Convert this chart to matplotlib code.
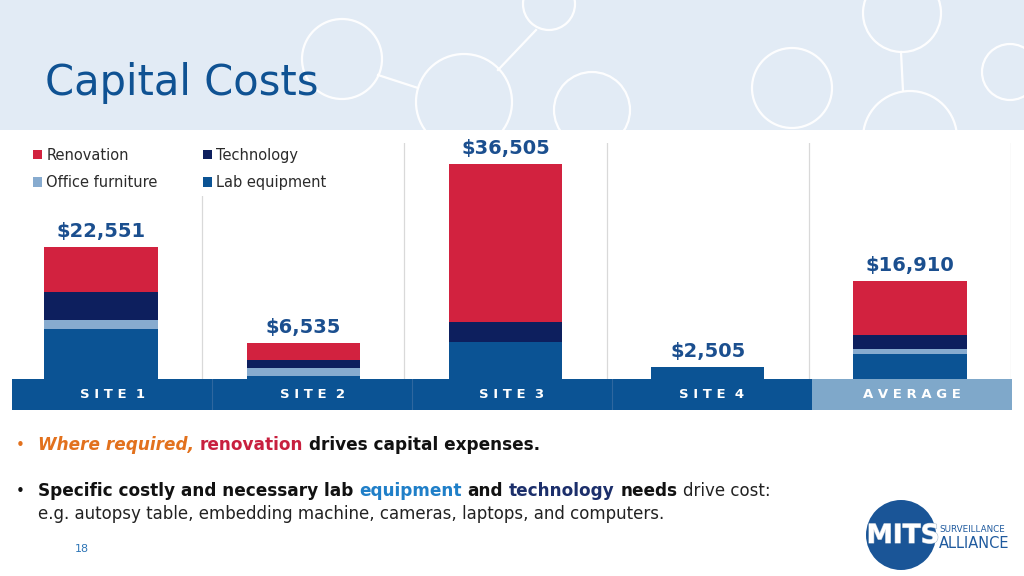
import matplotlib
matplotlib.use('Agg')
import matplotlib.pyplot as plt
from matplotlib.patches import Rectangle, Circle
from matplotlib.lines import Line2D
import matplotlib.patheffects as pe
import numpy as np

# ---------------- data ----------------
categories = ['SITE 1', 'SITE 2', 'SITE 3', 'SITE 4', 'AVERAGE']
series_names = ['Renovation', 'Technology', 'Office furniture', 'Lab equipment']
renovation = [7445, 2800, 26530, 0, 9080]
technology = [4798, 1400, 3300, 0, 2364]
office_furniture = [1489, 1355, 0, 0, 820]
lab_equipment = [8819, 980, 6675, 2505, 4646]
total_labels = ['$22,551', '$6,535', '$36,505', '$2,505', '$16,910']

# ---------------- style ----------------
C_REN = '#d2223f'
C_TECH = '#0d1f5e'
C_OFF = '#87abcf'
C_LAB = '#0b5394'
C_BAND = '#0b5394'
C_BAND_AVG = '#7fa8ca'
C_TITLE = '#0f5293'
C_LABEL = '#1b4f8f'
C_HEADER = '#e2ebf5'

plt.rcParams['font.family'] = ['DejaVu Sans']

W, H = 1024, 576
fig = plt.figure(figsize=(W / 100, H / 100), dpi=100)
fig.patch.set_facecolor('white')

# background axes in pixel coordinates (y downward)
bg = fig.add_axes([0, 0, 1, 1])
bg.set_xlim(0, W)
bg.set_ylim(H, 0)
bg.axis('off')
bg.set_zorder(0)

header = Rectangle((0, 0), W, 130, facecolor=C_HEADER, edgecolor='none')
bg.add_patch(header)

circles = [(342, 59, 40), (464, 102, 48), (549, 4, 26), (592, 110, 38),
           (792, 88, 40), (902, 13, 39), (910, 138, 47), (1010, 72, 28)]
for cx, cy, r in circles:
    c = Circle((cx, cy), r, facecolor='none', edgecolor='white', lw=1.6, alpha=0.95)
    bg.add_patch(c)
    c.set_clip_path(header)
for (x0, y0), (x1, y1) in [((378, 75), (418, 88)), ((536, 30), (498, 70)), ((901, 52), (903, 91))]:
    ln = Line2D([x0, x1], [y0, y1], color='white', lw=1.6, alpha=0.95)
    bg.add_line(ln)

bg.text(45, 95, 'Capital Costs', fontsize=30, color=C_TITLE, ha='left', va='baseline')

# ---------------- chart ----------------
ax = fig.add_axes([0, (H - 382) / H, 1011 / W, 239 / H])
ax.set_zorder(1)
ax.patch.set_alpha(0)
x = np.arange(len(categories))
bw = 0.56
lab = np.array(lab_equipment, dtype=float)
off = np.array(office_furniture, dtype=float)
tech = np.array(technology, dtype=float)
ren = np.array(renovation, dtype=float)
b1 = ax.bar(x, lab, bw, color=C_LAB, lw=0, label='Lab equipment', zorder=2)
b2 = ax.bar(x, off, bw, bottom=lab, color=C_OFF, lw=0, label='Office furniture', zorder=2)
b3 = ax.bar(x, tech, bw, bottom=lab + off, color=C_TECH, lw=0, label='Technology', zorder=2)
b4 = ax.bar(x, ren, bw, bottom=lab + off + tech, color=C_REN, lw=0, label='Renovation', zorder=2)
ax.bar_label(b4, labels=total_labels, padding=4.5, fontsize=14, fontweight='bold', color=C_LABEL)

ax.set_xlim(-0.5, len(categories) - 0.5)
ax.set_ylim(0, 40000)
ax.set_xticks(x + 0.5, minor=True)
ax.set_xticks([])
ax.set_yticks([])
ax.grid(True, which='minor', axis='x', color='#d9d9d9', lw=0.9, zorder=0)
ax.tick_params(which='both', length=0)
for s in ax.spines.values():
    s.set_visible(False)

handles = [b4, b2, b3, b1]
labels = ['Renovation', 'Office furniture', 'Technology', 'Lab equipment']
leg = ax.legend(handles, labels, ncol=2, loc='upper left',
                bbox_to_anchor=(27 / W, 1 - 142 / H), bbox_transform=fig.transFigure,
                fontsize=10.5, frameon=True, fancybox=False, borderpad=0.4,
                handlelength=0.62, handleheight=0.62, handletextpad=0.3,
                columnspacing=3.1, labelspacing=0.85, borderaxespad=0,
                labelcolor='#2b2b2b')
leg.get_frame().set_facecolor('white')
leg.get_frame().set_edgecolor('none')
leg.get_frame().set_alpha(1)
leg.set_zorder(5)

# ---------------- category band ----------------
axb = fig.add_axes([12 / W, (H - 410) / H, 1000 / W, 31 / H])
axb.set_zorder(3)
axb.set_xlim(-0.5, len(categories) - 0.5)
axb.set_ylim(0, 1)
axb.axis('off')
for i, cat in enumerate(categories):
    col = C_BAND_AVG if cat == 'AVERAGE' else C_BAND
    axb.axvspan(i - 0.5, i + 0.5, color=col, lw=0)
    spaced = ' '.join(cat).replace('   ', '  ')
    axb.text(i, 0.5, spaced, color='white', fontsize=9.5, fontweight='bold',
             ha='center', va='center')
for i in range(len(categories) - 2):
    axb.axvline(i + 0.5, color='#2f679f', lw=0.8)

# ---------------- bullets ----------------
fig.canvas.draw()
renderer = fig.canvas.get_renderer()


def _w(txt, size, weight, style):
    t = bg.text(0, 0, txt, fontsize=size, fontweight=weight, fontstyle=style)
    w = t.get_window_extent(renderer).width
    t.remove()
    return w


def rich_line(x0, y, pieces):
    xx = x0
    for txt, color, weight, style, size in pieces:
        bg.text(xx, y, txt, fontsize=size, color=color, fontweight=weight,
                fontstyle=style, ha='left', va='center')
        adv = _w(txt + ' |', size, weight, style) - _w('|', size, weight, style)
        xx += adv


ORANGE = '#e2711d'
BLACK = '#111111'
BS = 12.2
RS = 12.0
bg.text(20, 445, '•', fontsize=11, color=ORANGE, ha='center', va='center')
rich_line(38, 445, [('Where required,', ORANGE, 'bold', 'italic', BS),
                    ('renovation', '#c8203f', 'bold', 'normal', BS),
                    ('drives capital expenses.', BLACK, 'bold', 'normal', BS)])
bg.text(20, 491, '•', fontsize=11, color=BLACK, ha='center', va='center')
rich_line(38, 491, [('Specific costly and necessary lab', BLACK, 'bold', 'normal', BS),
                    ('equipment', '#1f7fc8', 'bold', 'normal', BS),
                    ('and', BLACK, 'bold', 'normal', BS),
                    ('technology', '#1c2f6b', 'bold', 'normal', BS),
                    ('needs', BLACK, 'bold', 'normal', BS),
                    ('drive cost:', '#222222', 'normal', 'normal', RS)])
rich_line(38, 514, [('e.g. autopsy table, embedding machine, cameras, laptops, and computers.',
                     '#222222', 'normal', 'normal', RS)])

bg.text(82, 549, '18', fontsize=8, color='#2e75b6', ha='center', va='center')

# ---------------- logo ----------------
bg.add_patch(Circle((901, 535), 35, facecolor='#1a5597', edgecolor='none'))
bg.text(903, 536, 'MITS', fontsize=19, fontweight='bold', color='white', ha='center', va='center',
        path_effects=[pe.withStroke(linewidth=0.8, foreground='#a9bccf')])
bg.text(939, 529, 'SURVEILLANCE', fontsize=6.3, color='#1f5a9e', ha='left', va='center')
bg.text(939, 544, 'ALLIANCE', fontsize=10.5, color='#1f5a9e', ha='left', va='center')

fig.savefig('out.png', dpi=100, facecolor='white')
